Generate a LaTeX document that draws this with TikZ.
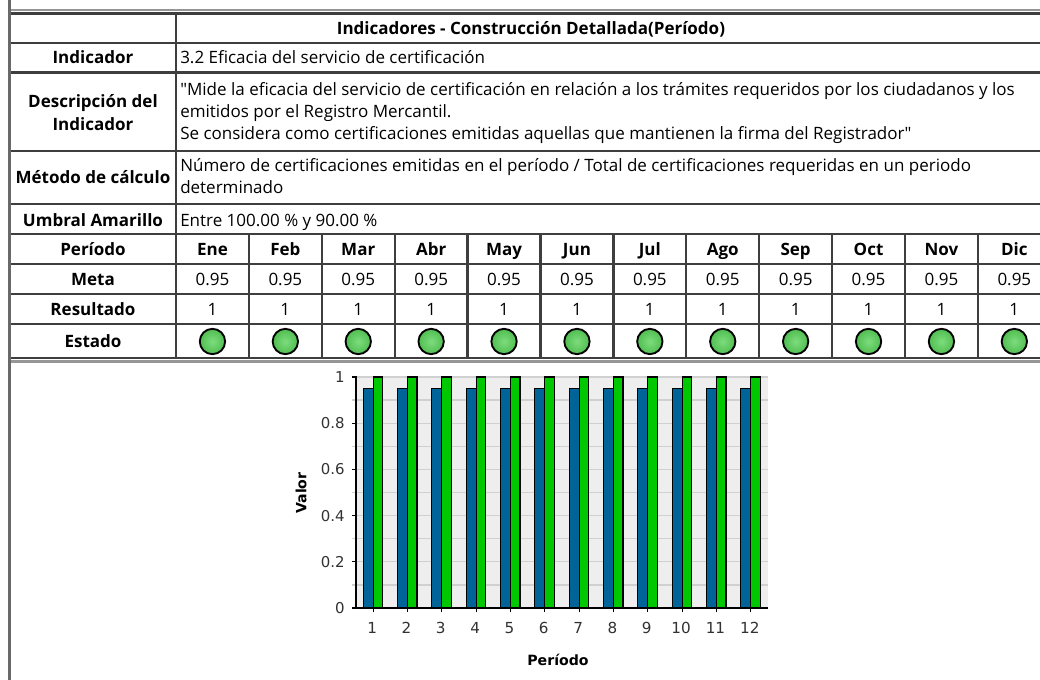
\documentclass[tikz,border=0pt]{standalone}
\usepackage{fontspec}
\setmainfont{Open Sans}
\newfontfamily\qfont{Open Sans}[Ligatures=TeXOff]
\newfontfamily\chartfont{DejaVu Sans}
\definecolor{cellline}{RGB}{62,62,62}
\definecolor{outerline}{RGB}{105,105,105}
\definecolor{lightline}{RGB}{150,150,150}
\definecolor{barblue}{RGB}{0,100,152}
\definecolor{bargreen}{RGB}{0,200,0}
\definecolor{plotbg}{RGB}{238,238,238}
\definecolor{gridc}{RGB}{208,208,208}
\definecolor{ticktext}{RGB}{50,50,50}
\definecolor{dotin}{RGB}{125,220,125}
\definecolor{dotout}{RGB}{80,190,80}
\begin{document}
\begin{tikzpicture}[x=0.75pt,y=-0.75pt,
  lbl/.style={font=\fontsize{12.75}{16.9}\selectfont\bfseries, text=black, inner sep=0pt, anchor=base},
  val/.style={font=\fontsize{12.75}{16.9}\selectfont, text=black, inner sep=0pt, anchor=base west},
  num/.style={font=\fontsize{12.75}{16.9}\selectfont, text=black, inner sep=0pt, anchor=base},
  hline/.style={draw=cellline, line width=1.7pt},
  vline/.style={draw=cellline, line width=1.7pt},
  dot/.style={circle, draw=black, line width=1.4pt, minimum size=19pt, inner sep=0pt, inner color=dotin, outer color=dotout},
  ytick/.style={font=\chartfont\fontsize{11.2}{12}\selectfont, text=ticktext, inner sep=0pt, anchor=east},
  xtick/.style={font=\chartfont\fontsize{11.4}{12}\selectfont, text=ticktext, inner sep=0pt},
  axlabel/.style={font=\chartfont\bfseries\fontsize{10.6}{12}\selectfont, text=black, inner sep=0pt},
  bluebar/.style={fill=barblue, draw=black, line width=0.8pt},
  greenbar/.style={fill=bargreen, draw=black, line width=0.8pt}
]
\useasboundingbox (0,0) rectangle (1040,680);
\clip (0,0) rectangle (1040,680);
\fill[white] (0,0) rectangle (1040,680);

% ---------- table rules ----------
% top border
\draw[draw=lightline, line width=1.6pt] (9,10) -- (1052,10);
\draw[draw=cellline, line width=2.6pt] (9,13.5) -- (1052,13.5);
% horizontal rules
\foreach \yy in {43,72.5,151,204,234,264,294,324}
  \draw[hline] (9,\yy) -- (1052,\yy);
% bottom double rule
\draw[draw=cellline, line width=2pt] (9,358) -- (1052,358);
\draw[draw=lightline, line width=2pt] (9,361.2) -- (1052,361.2);
% vertical rules
\draw[vline] (176,13) -- (176,358);
\foreach \i in {1,...,11}
  \draw[vline] ({176+72.9*\i},234) -- ({176+72.9*\i},358);
% left outer border
\draw[draw=outerline, line width=2.4pt] (9.5,0) -- (9.5,680);

% ---------- table text ----------
\node[lbl] (title) at (531,35) {Indicadores - Construcción Detallada(Período)};
\node[lbl] (indlbl) at (93,64) {Indicador};
\node[val] (indval) at (180,64) {3.2 Eficacia del servicio de certificación};
\node[lbl] (desclbla) at (93,107.7) {Descripción del};
\node[lbl] (desclblb) at (93,131) {Indicador};
\node[val] (descvala) at (180,96) {{\qfont"}Mide la eficacia del servicio de certificación en relación a los trámites requeridos por los ciudadanos y los};
\node[val] (descvalb) at (180,118) {emitidos por el Registro Mercantil.};
\node[val] (descvalc) at (180,140) {Se considera como certificaciones emitidas aquellas que mantienen la firma del Registrador{\qfont"}};
\node[lbl] (metlbl) at (93,183.5) {Método de cálculo};
\node[val] (metvala) at (180,171.5) {Número de certificaciones emitidas en el período / Total de certificaciones requeridas en un periodo};
\node[val] (metvalb) at (180,194) {determinado};
\node[lbl] (umblbl) at (93,226.5) {Umbral Amarillo};
\node[val] (umbval) at (180,226.5) {Entre 100.00 \% y 90.00 \%};
\node[lbl] (perlbl) at (93,256) {Período};
\node[lbl] (metalbl) at (93,286) {Meta};
\node[lbl] (reslbl) at (93,316) {Resultado};
\node[lbl] (estlbl) at (93,347.5) {Estado};
\foreach \m [count=\i] in {Ene,Feb,Mar,Abr,May,Jun,Jul,Ago,Sep,Oct,Nov,Dic} {
  \pgfmathsetmacro\cx{176+72.9*(\i-0.5)}
  \node[lbl] (mon\i) at (\cx,256) {\m};
  \node[num] (meta\i) at (\cx,286) {0.95};
  \node[num] (res\i) at (\cx,316) {1};
  \node[dot] (st\i) at (\cx,341.5) {};
}

% ---------- chart ----------
\fill[plotbg] (356,377) rectangle (768,608);
\foreach \k in {1,...,10}
  \draw[draw=gridc, line width=1pt] (352,{608-23.1*\k}) -- (768,{608-23.1*\k});
\foreach \i in {1,...,12} {
  \pgfmathsetmacro\cc{356+34.33*(\i-0.5)}
  \draw[bluebar] ({\cc-10},608) rectangle (\cc,388.5);
  \draw[greenbar] (\cc,608) rectangle ({\cc+9.5},377);
  \draw[black, line width=0.8pt] (\cc,608) -- (\cc,612);
  \node[xtick] (xl\i) at ({\cc-1},628) {\i};
}
\draw[black, line width=1.2pt] (356,376) -- (356,608) -- (768,608);
\foreach \v/\t in {0/0,1/0.2,2/0.4,3/0.6,4/0.8,5/1} {
  \draw[black, line width=0.8pt] (352,{608-46.2*\v}) -- (356,{608-46.2*\v});
  \node[ytick] (yl\v) at (345,{608-46.2*\v}) {\t};
}
\node[axlabel, rotate=90] (ylab) at (301,493) {Valor};
\node[axlabel] (xlab) at (558,660) {Período};
\end{tikzpicture}
\end{document}
